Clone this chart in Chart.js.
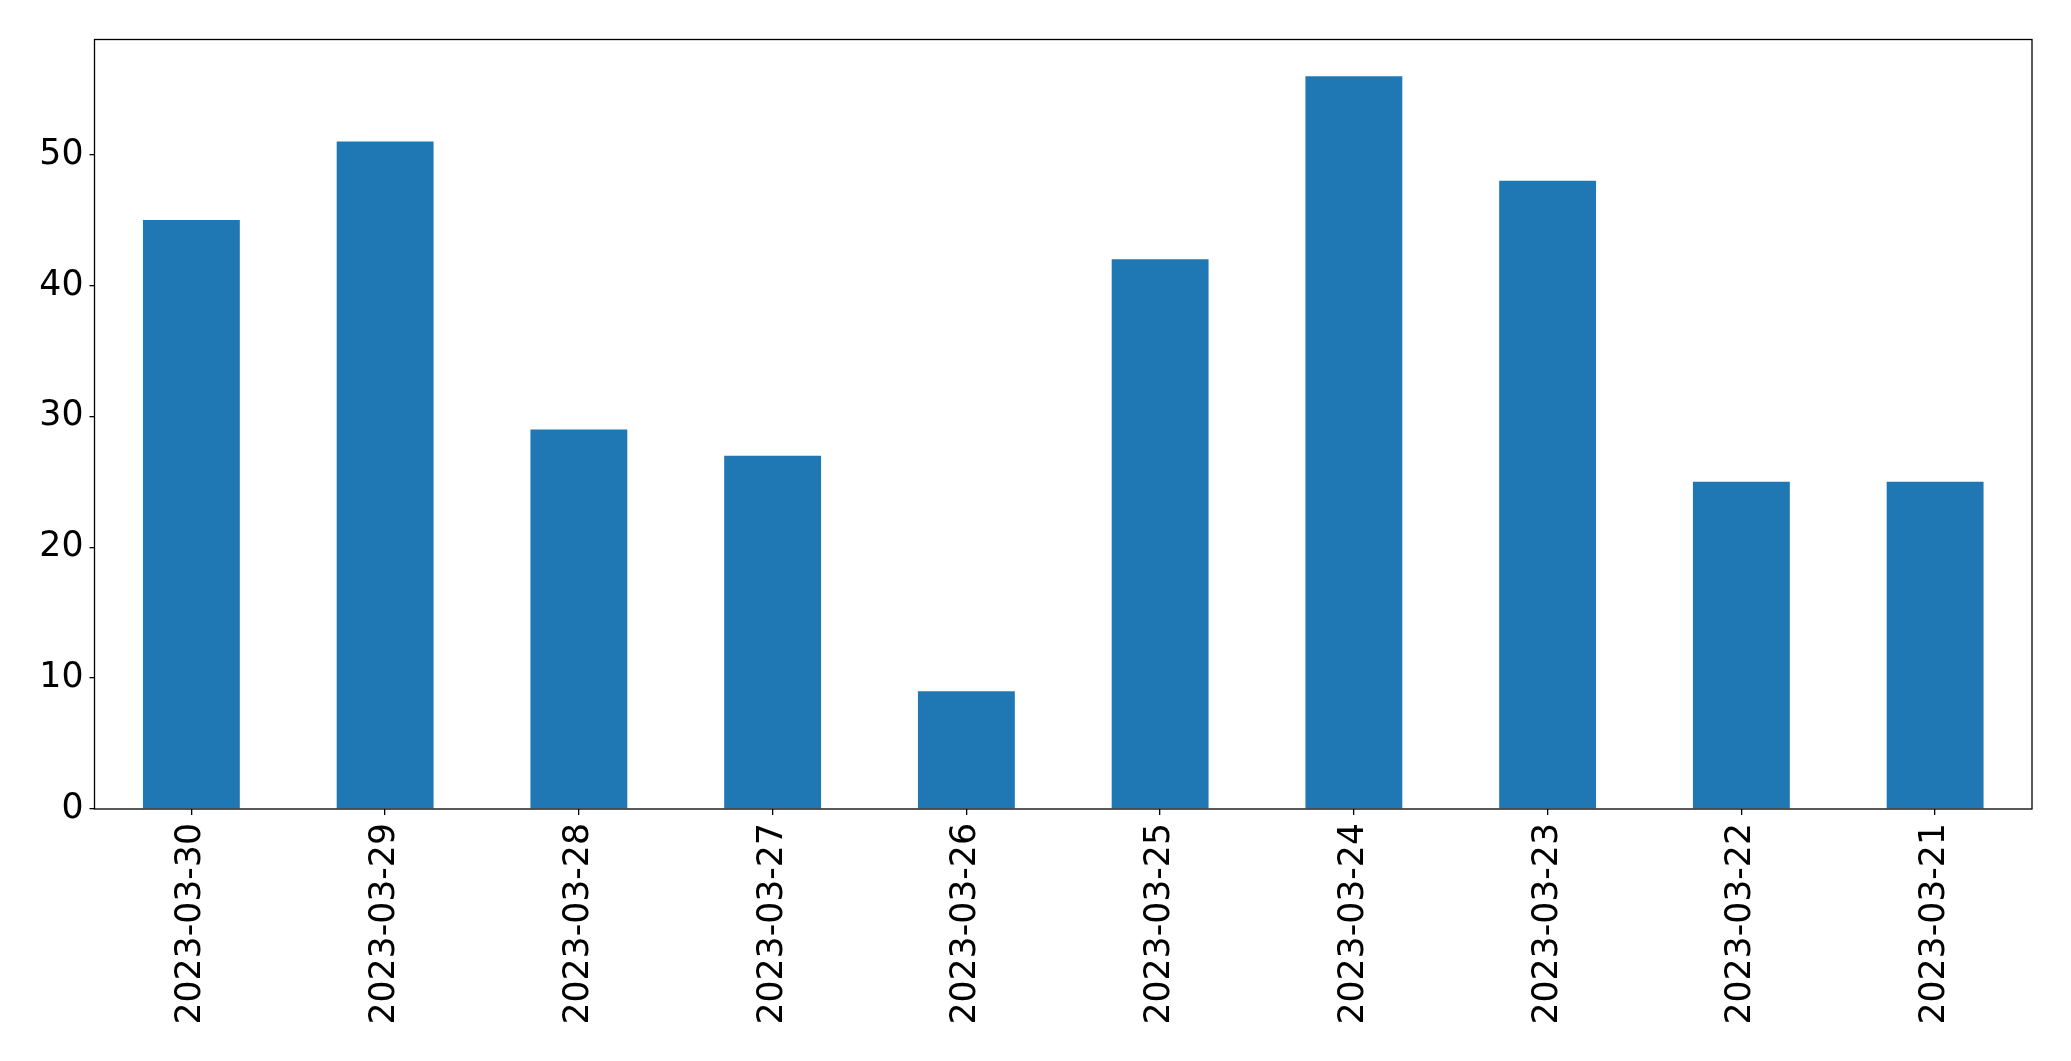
<!DOCTYPE html>
<html>
<head>
<meta charset="utf-8">
<script src="https://cdn.jsdelivr.net/npm/chart.js@4"></script>
<style>
  html, body { margin: 0; padding: 0; background: #fff; }
  #wrap { width: 2071px; height: 1061px; }
</style>
</head>
<body>
<div id="wrap"><canvas id="chart" width="2071" height="1061"></canvas></div>
<script>
// data
const dagen = ["2023-03-30", "2023-03-29", "2023-03-28", "2023-03-27", "2023-03-26",
               "2023-03-25", "2023-03-24", "2023-03-23", "2023-03-22", "2023-03-21"];
const aantallen = [45, 51, 29, 27, 9, 42, 56, 48, 25, 25];
const yTicks = [0, 10, 20, 30, 40, 50];

const fontFam = "'DejaVu Sans', sans-serif";

// kader rond het plotgebied (zoals matplotlib)
const frame = {
    id: "frame",
    afterDraw(chart) {
        const a = chart.chartArea;
        const ctx = chart.ctx;
        ctx.save();
        ctx.strokeStyle = "#000";
        ctx.lineWidth = 1.3;
        ctx.strokeRect(a.left, a.top, a.right - a.left, a.bottom - a.top);
        ctx.restore();
    }
};

new Chart(document.getElementById("chart"), {
    type: "bar",
    data: {
        labels: dagen,
        datasets: [{
            data: aantallen,
            backgroundColor: "#1f77b4",
            borderWidth: 0,
            barPercentage: 0.5,
            categoryPercentage: 1.0
        }]
    },
    options: {
        responsive: false,
        animation: false,
        layout: { padding: { top: 39.5, right: 39, left: 0, bottom: 0 } },
        plugins: { legend: { display: false }, tooltip: { enabled: false } },
        scales: {
            x: {
                offset: true,
                grid: { display: true, offset: false, drawOnChartArea: false, drawTicks: true, tickLength: 6, color: "#000", lineWidth: 1.3 },
                border: { display: false },
                ticks: {
                    color: "#000",
                    font: { family: fontFam, size: 34.7 },
                    minRotation: 90,
                    maxRotation: 90,
                    padding: 8,
                    autoSkip: false
                },
                afterFit(scale) { scale.height = 252; }
            },
            y: {
                min: 0,
                max: 58.8,
                grid: { display: true, drawOnChartArea: false, drawTicks: true, tickLength: 5, color: "#000", lineWidth: 1.3 },
                border: { display: false },
                ticks: {
                    color: "#000",
                    font: { family: fontFam, size: 34.7 },
                    padding: 6
                },
                afterBuildTicks(scale) {
                    scale.ticks = yTicks.map(v => ({ value: v }));
                },
                afterFit(scale) { scale.width = 94.5; }
            }
        }
    },
    plugins: [frame]
});
</script>
</body>
</html>
